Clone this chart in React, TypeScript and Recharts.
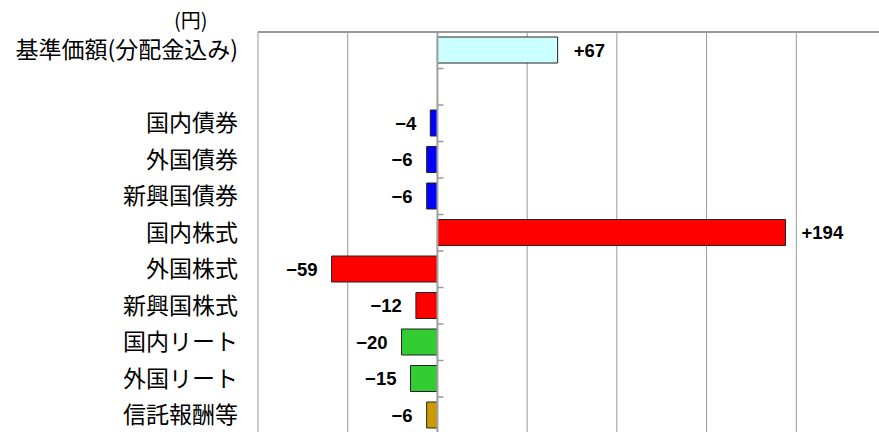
import React from 'react';
import { BarChart, Bar, XAxis, YAxis, CartesianGrid, Cell, LabelList, ReferenceLine } from 'recharts';

const categories = ['基準価額(分配金込み)', '', '国内債券', '外国債券', '新興国債券', '国内株式', '外国株式', '新興国株式', '国内リート', '外国リート', '信託報酬等'];
const values: (number | null)[] = [67, null, -4, -6, -6, 194, -59, -12, -20, -15, -6];
const colors = ['#ccffff', '#ffffff', '#0000ff', '#0000ff', '#0000ff', '#ff0000', '#ff0000', '#ff0000', '#33cc33', '#33cc33', '#cc9900'];
const xTicks = [-100, -50, 0, 50, 100, 150, 200, 250];
const unitLabel = '(円)';

const data = categories.map((name, i) => ({ name: name === '' ? ' ' : name, value: values[i], color: colors[i] }));

const fmt = (v: number) => (v > 0 ? `+${v}` : `−${Math.abs(v)}`);

const ValueLabel = (props: any) => {
  const { x, y, width, height, value } = props;
  if (value === null || value === undefined) return null;
  const left = Math.min(x, x + width);
  const right = Math.max(x, x + width);
  const cy = y + height / 2;
  const pos = value > 0;
  return (
    <text
      x={pos ? right + 16 : left - 14}
      y={cy}
      textAnchor={pos ? 'start' : 'end'}
      dominantBaseline="central"
      fontFamily="'Liberation Sans', Arial, sans-serif"
      fontWeight="bold"
      fontSize={18.5}
      fill="#000"
    >
      {fmt(value)}
    </text>
  );
};

const ZeroAxis = (props: any) => {
  const x = props.x1 ?? props.x;
  const yA = props.y1 ?? 0;
  const yB = props.y2 ?? 0;
  const top = Math.min(yA, yB);
  const bottom = Math.max(yA, yB);
  const n = categories.length;
  const step = (bottom - top) / n;
  const ticks = [];
  for (let i = 0; i <= n; i++) {
    const ty = top + i * step;
    ticks.push(<line key={i} x1={x} x2={x + 6} y1={ty} y2={ty} stroke="#999" strokeWidth={1.5} />);
  }
  return (
    <g>
      <line x1={x} x2={x} y1={top} y2={bottom} stroke="#a0a0a0" strokeWidth={2} />
      {ticks}
    </g>
  );
};

export default function App() {
  return (
    <div style={{ position: 'fixed', left: 0, top: 0, width: 879, height: 432, overflow: 'hidden', background: '#fff' }}>
      <div
        style={{
          position: 'absolute',
          left: 174,
          top: 10,
          fontFamily: "'Noto Sans CJK JP', sans-serif",
          fontSize: 20,
          lineHeight: '20px',
          color: '#000',
        }}
      >
        {unitLabel}
      </div>
      <BarChart
        width={900}
        height={440}
        data={data}
        layout="vertical"
        margin={{ top: 32, right: 14, left: 0, bottom: 6.5 }}
        barSize={26}
      >
        <CartesianGrid horizontal={false} vertical={true} stroke="#999" strokeWidth={1} />
        <XAxis type="number" domain={[-100, 250]} ticks={xTicks} hide allowDataOverflow />
        <YAxis
          type="category"
          dataKey="name"
          width={258}
          axisLine={false}
          tickLine={false}
          tickSize={0}
          tickMargin={20}
          interval={0}
          tick={{ fontFamily: "'Noto Sans CJK JP', sans-serif", fontSize: 23, fill: '#000' }}
        />
        <Bar dataKey="value" isAnimationActive={false} stroke="#222" strokeWidth={1}>
          {data.map((d, i) => (
            <Cell key={i} fill={d.color} />
          ))}
          <LabelList dataKey="value" content={ValueLabel} />
        </Bar>
        <ReferenceLine x={0} shape={ZeroAxis} />
      </BarChart>
      <div
        style={{
          position: 'absolute',
          left: 258,
          top: 31,
          width: 621,
          height: 2,
          background: '#999',
          pointerEvents: 'none',
        }}
      />
    </div>
  );
}
